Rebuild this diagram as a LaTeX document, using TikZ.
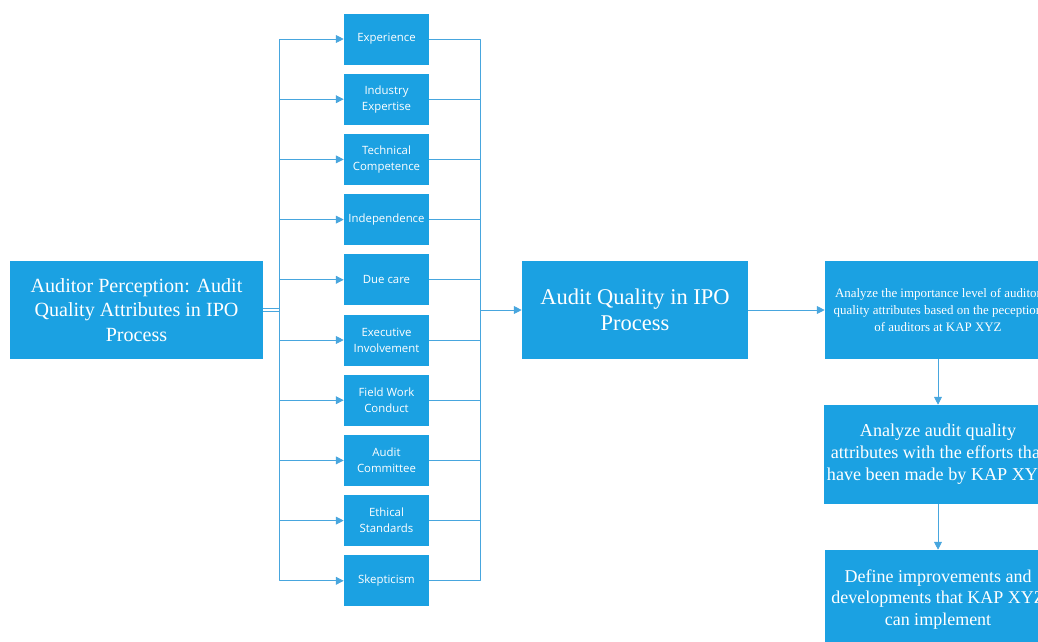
\documentclass[tikz,border=0pt]{standalone}
\usepackage{fontspec}
\setmainfont{Liberation Serif}
\newfontfamily\boxfont{Open Sans}
\usetikzlibrary{arrows.meta}
\definecolor{boxblue}{RGB}{27,161,226}
\definecolor{lineblue}{RGB}{72,166,222}

\begin{document}
\begin{tikzpicture}[x=0.025cm, y=-0.025cm, line join=round, >={Triangle[length=5.5pt,width=5.5pt]}]
	\tikzset{
		bigbox/.style={fill=boxblue, text=white, align=center, inner sep=2pt},
		attrbox/.style={fill=boxblue, text=white, align=center, minimum width=2.125cm, minimum height=1.275cm, inner sep=1pt, font=\boxfont\fontsize{8.1}{11.4}\selectfont},
		link/.style={draw=lineblue, line width=0.6pt}
	}
	\useasboundingbox (0,0) rectangle (1038,641);
	\clip (0,0) rectangle (1038,641);
	% left and middle blocks
	\node[bigbox, minimum width=6.325cm, minimum height=2.45cm, font=\fontsize{14.3}{17.2}\selectfont] (percep) at (136.5,310) {Auditor Perception: Audit\\Quality Attributes in IPO\\Process};
	\node[bigbox, minimum width=5.65cm, minimum height=2.45cm, font=\fontsize{16}{18.8}\selectfont] (quality) at (635,310) {Audit Quality in IPO\\Process};
	\coordinate (lbus) at (279,310);
	\coordinate (rbus) at (480,310);
	% attributes
	\foreach \i/\txt in {1/Experience, 2/{Industry\\Expertise}, 3/{Technical\\Competence}, 4/Independence, 5/Due care, 6/{Executive\\Involvement}, 7/{Field Work\\Conduct}, 8/{Audit\\Committee}, 9/{Ethical\\Standards}, 10/Skepticism}{
		\node[attrbox] (a\i) at (386.5,{39+(\i-1)*60.2}) {\txt};
		\draw[link,->] (lbus) |- (a\i.west);
		\draw[link] (a\i.east) -| (rbus);
	}
	\draw[link, double=white, double distance=1.5pt] (percep.east) -- (lbus);
	\draw[link,->] (rbus) -- (quality.west);
	% steps on the right
	\node[bigbox, minimum width=5.65cm, minimum height=2.45cm, font=\fontsize{9.2}{12.2}\selectfont] (step1) at (938,310) {Analyze the importance level of auditor\\quality attributes based on the peception\\of auditors at KAP XYZ};
	\node[bigbox, minimum width=5.65cm, minimum height=2.475cm, font=\fontsize{12.9}{15.6}\selectfont] (step2) at (938,454.5) {Analyze audit quality\\attributes with the efforts that\\have been made by KAP XYZ};
	\node[bigbox, minimum width=5.65cm, minimum height=2.475cm, font=\fontsize{12.8}{15.4}\selectfont] (step3) at (938,599.5) {Define improvements and\\developments that KAP XYZ\\can implement};
	\draw[link,->] (quality.east) -- (step1.west);
	\draw[link,->] (step1.south) -- (step2.north);
	\draw[link,->] (step2.south) -- (step3.north);
\end{tikzpicture}
\end{document}
